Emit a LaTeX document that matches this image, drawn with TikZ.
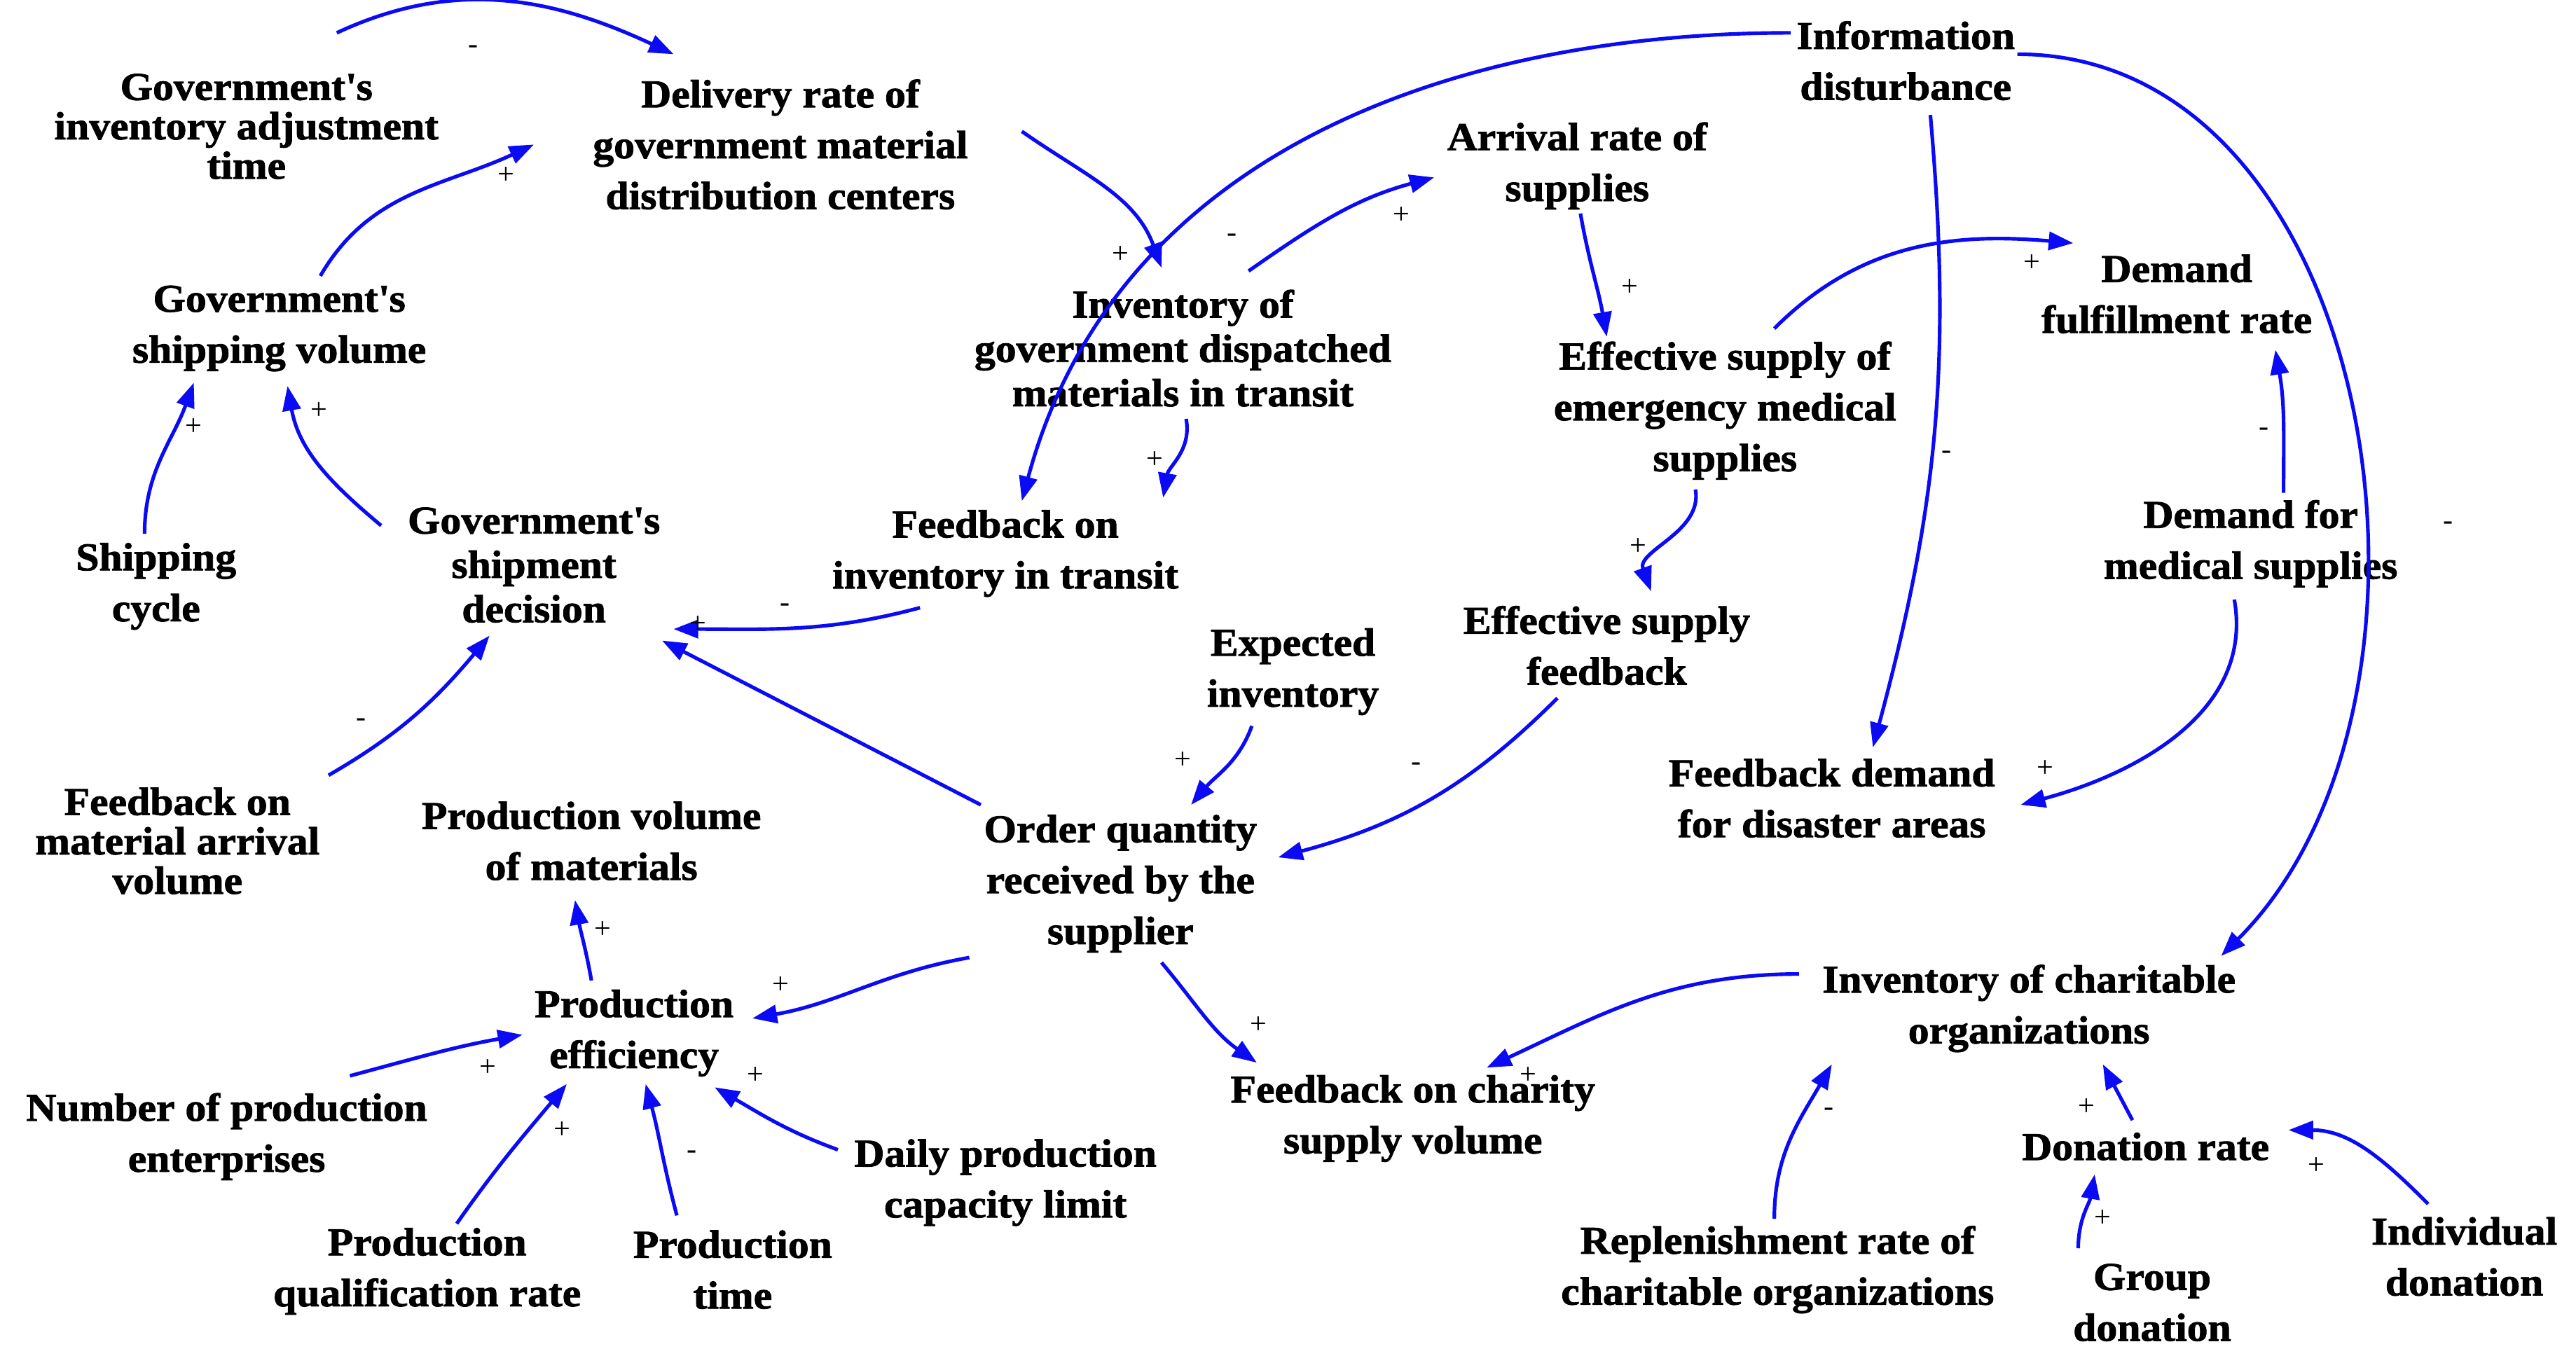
\documentclass[tikz,border=0pt]{standalone}
\usepackage{fontspec}
\setmainfont{Liberation Serif Bold}[FakeStretch=1.06,FakeBold=1.5]
\newfontfamily\sgn{Liberation Serif}
\usetikzlibrary{arrows.meta}
\definecolor{ab}{RGB}{10,10,245}
\newcommand\q{\textquotesingle}
\begin{document}
\begin{tikzpicture}[x=1pt,y=1pt,
  v/.style={align=center,font=\fontsize{24}{31}\selectfont,inner sep=3pt},
  vt/.style={v,font=\fontsize{24}{24}\selectfont},
  vm/.style={v,font=\fontsize{24}{27}\selectfont},
  a/.style={draw=ab,line width=2.2pt,-{Triangle[length=15pt,width=11pt]}},
  s/.style={font=\sgn\fontsize{18}{18}\selectfont,inner sep=0pt}]
\useasboundingbox (0,0) rectangle (1568,-834);
\node[vt] (giat) at (150,-77) {Government\q s\\inventory adjustment\\time};
\node[v] (dr) at (475,-88) {Delivery rate of\\government material\\distribution centers};
\node[v] (info) at (1160,-37) {Information\\disturbance};
\node[v] (arr) at (960,-101) {Arrival rate of\\supplies};
\node[vm] (igt) at (720,-212) {Inventory of\\government dispatched\\materials in transit};
\node[v] (gsv) at (170,-200) {Government\q s\\shipping volume};
\node[v] (dfr) at (1325,-179) {Demand\\fulfillment rate};
\node[v] (es) at (1050,-250) {Effective supply of\\emergency medical\\supplies};
\node[v] (sc) at (95,-357) {Shipping\\cycle};
\node[vm] (gsd) at (325,-344) {Government\q s\\shipment\\decision};
\node[v] (fit) at (612,-337) {Feedback on\\inventory in transit};
\node[v] (dms) at (1370,-331) {Demand for\\medical supplies};
\node[v] (esf) at (978,-393) {Effective supply\\feedback};
\node[v] (ei) at (787,-409) {Expected\\inventory};
\node[v] (fdd) at (1115,-486) {Feedback demand\\for disaster areas};
\node[vt] (fma) at (108,-512) {Feedback on\\material arrival\\volume};
\node[v] (pvm) at (360,-512) {Production volume\\of materials};
\node[v] (oq) at (682,-538) {Order quantity\\received by the\\supplier};
\node[v] (ico) at (1235,-614) {Inventory of charitable\\organizations};
\node[v] (pe) at (386,-629) {Production\\efficiency};
\node[v] (fcs) at (860,-681) {Feedback on charity\\supply volume};
\node[v] (npe) at (138,-692) {Number of production\\enterprises};
\node[v] (dpc) at (612,-720) {Daily production\\capacity limit};
\node[v] (don) at (1306,-698) {Donation rate};
\node[v] (pqr) at (260,-774) {Production\\qualification rate};
\node[v] (pt) at (446,-773) {Production\\time};
\node[v] (rco) at (1082,-773) {Replenishment rate of\\charitable organizations};
\node[v] (gd) at (1310,-793) {Group\\donation};
\node[v] (id) at (1500,-765) {Individual\\donation};
% arrows
\draw[a] ([shift={(55,57)}]giat.center) to[out=25,in=155] ([shift={(-65,55)}]dr.center);
\draw[a] ([shift={(25,32)}]gsv.center) to[out=60,in=205] ([shift={(-150,0)}]dr.center);
\draw[a] ([shift={(147,8)}]dr.center) to[out=-35,in=110] ([shift={(-13,49)}]igt.center);
\draw[a] ([shift={(40,47)}]igt.center) to[out=35,in=195] ([shift={(-87,-7)}]arr.center);
\draw[a] ([shift={(2,-29)}]arr.center) to[out=-80,in=100] ([shift={(-72,45)}]es.center);
\draw[a] ([shift={(30,50)}]es.center) to[out=45,in=175] ([shift={(-63,31)}]dfr.center);
\draw[a] ([shift={(20,31)}]dms.center) to[out=90,in=-80] ([shift={(60,-34)}]dfr.center);
\draw[a] ([shift={(-18,-48)}]es.center) to[out=-80,in=110] ([shift={(27,33)}]esf.center);
\draw[a] ([shift={(2,-43)}]igt.center) to[out=-80,in=80] ([shift={(96,34)}]fit.center);
\draw[a] ([shift={(-70,17)}]info.center) to[out=180,in=75] ([shift={(10,32)}]fit.center);
\draw[a] ([shift={(15,-33)}]info.center) to[out=-85,in=75] ([shift={(25,31)}]fdd.center);
\draw[a] ([shift={(68,4)}]info.center) to[out=0,in=45] ([shift={(117,32)}]ico.center);
\draw[a] ([shift={(-10,-34)}]dms.center) to[out=-80,in=15] ([shift={(115,-4)}]fdd.center);
\draw[a] ([shift={(-52,-33)}]fit.center) to[out=195,in=0] ([shift={(85,-39)}]gsd.center);
\draw[a] ([shift={(-85,48)}]oq.center) -- ([shift={(78,-46)}]gsd.center);
\draw[a] ([shift={(-93,24)}]gsd.center) to[out=140,in=-80] ([shift={(5,-35)}]gsv.center);
\draw[a] ([shift={(-7,32)}]sc.center) to[out=90,in=250] ([shift={(-52,-33)}]gsv.center);
\draw[a] ([shift={(92,40)}]fma.center) to[out=30,in=230] ([shift={(-27,-43)}]gsd.center);
\draw[a] ([shift={(-25,-33)}]ei.center) to[out=-110,in=50] ([shift={(43,48)}]oq.center);
\draw[a] ([shift={(-30,-32)}]esf.center) to[out=-135,in=15] ([shift={(96,16)}]oq.center);
\draw[a] ([shift={(-92,-45)}]oq.center) to[out=190,in=10] ([shift={(72,9)}]pe.center);
\draw[a] ([shift={(25,-48)}]oq.center) to[out=-50,in=145] ([shift={(-95,34)}]fcs.center);
\draw[a] ([shift={(-140,21)}]ico.center) to[out=180,in=25] ([shift={(45,31)}]fcs.center);
\draw[a] ([shift={(-26,32)}]pe.center) to[out=100,in=-80] ([shift={(-10,-36)}]pvm.center);
\draw[a] ([shift={(75,37)}]npe.center) to[out=15,in=190] ([shift={(-68,-1)}]pe.center);
\draw[a] ([shift={(18,29)}]pqr.center) to[out=55,in=230] ([shift={(-41,-31)}]pe.center);
\draw[a] ([shift={(-34,33)}]pt.center) to[out=105,in=-75] ([shift={(7,-31)}]pe.center);
\draw[a] ([shift={(-102,20)}]dpc.center) to[out=160,in=-30] ([shift={(49,-33)}]pe.center);
\draw[a] ([shift={(-2,31)}]rco.center) to[out=90,in=-120] ([shift={(-120,-34)}]ico.center);
\draw[a] ([shift={(-8,16)}]don.center) -- ([shift={(45,-34)}]ico.center);
\draw[a] ([shift={(-45,33)}]gd.center) to[out=90,in=-100] ([shift={(-31,-17)}]don.center);
\draw[a] ([shift={(-22,32)}]id.center) to[out=135,in=0] ([shift={(87,10)}]don.center);
% signs
\node[s] at (288,-30) {-};
\node[s] at (308,-107) {+};
\node[s] at (682,-155) {+};
\node[s] at (750,-145) {-};
\node[s] at (853,-131) {+};
\node[s] at (992,-175) {+};
\node[s] at (1237,-160) {+};
\node[s] at (1378,-263) {-};
\node[s] at (997,-333) {+};
\node[s] at (703,-280) {+};
\node[s] at (1185,-277) {-};
\node[s] at (1490,-320) {-};
\node[s] at (1245,-468) {+};
\node[s] at (478,-370) {-};
\node[s] at (425,-380) {+};
\node[s] at (194,-250) {+};
\node[s] at (118,-260) {+};
\node[s] at (220,-440) {-};
\node[s] at (720,-463) {+};
\node[s] at (862,-467) {-};
\node[s] at (475,-600) {+};
\node[s] at (766,-624) {+};
\node[s] at (930,-655) {+};
\node[s] at (367,-566) {+};
\node[s] at (297,-650) {+};
\node[s] at (342,-688) {+};
\node[s] at (421,-703) {-};
\node[s] at (460,-655) {+};
\node[s] at (1113,-677) {-};
\node[s] at (1270,-674) {+};
\node[s] at (1280,-742) {+};
\node[s] at (1410,-710) {+};
\end{tikzpicture}
\end{document}
